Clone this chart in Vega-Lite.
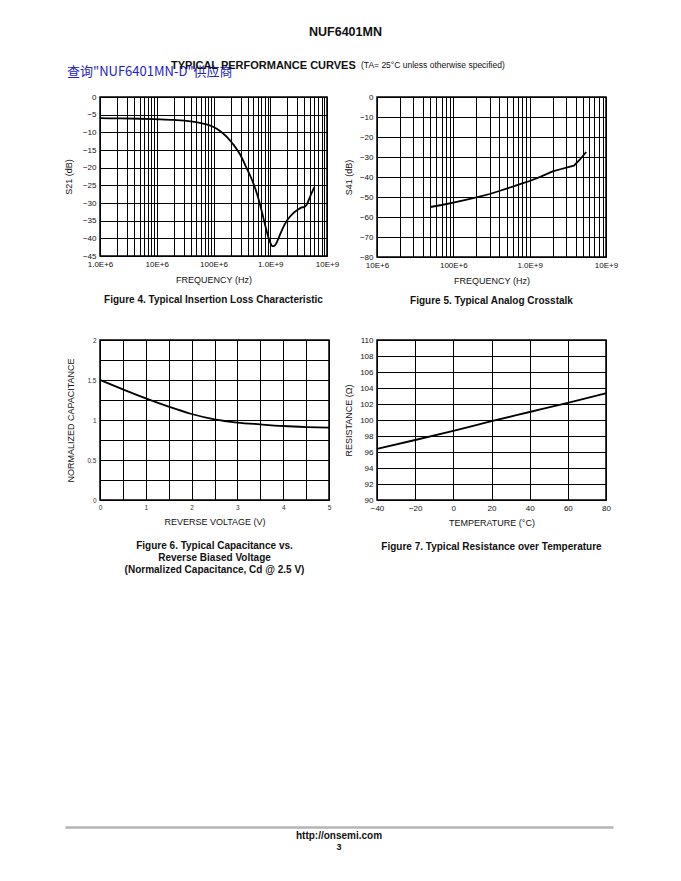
{
  "$schema": "https://vega.github.io/schema/vega-lite/v6.json",
  "autosize": "none",
  "padding": {"left": 65, "top": 97, "right": 616, "bottom": 784},
  "background": "white",
  "bounds": "flush",
  "spacing": 487,
  "config": {
    "font": "Liberation Sans",
    "view": {"stroke": "black", "strokeWidth": 1.5},
    "axis": {"grid": true, "gridColor": "black", "gridOpacity": 1, "gridWidth": 1, "domain": false, "ticks": false, "labelFont": "Liberation Sans", "labelFontSize": 8, "labelColor": "#111", "titleFont": "Liberation Sans", "titleFontSize": 9, "titleFontWeight": "normal", "titleColor": "#111", "labelPadding": 4, "titlePadding": 7, "labelFlush": false, "labelOverlap": false},
    "title": {"font": "Liberation Sans", "fontSize": 10, "fontWeight": "bold", "color": "#111", "frame": "group", "anchor": "middle"}
  },
  "vconcat": [
    {
      "bounds": "flush",
      "spacing": 0,
      "hconcat": [
        {
          "width": 35, "height": 1, "view": {"stroke": null},
          "data": {"values": [{"t": ""}]},
          "mark": {"type": "text"},
          "encoding": {"text": {"field": "t"}},
          "title": {"text": "查询\"NUF6401MN-D\"供应商", "orient": "top", "anchor": "start", "frame": "group", "dx": 2, "offset": 13, "fontSize": 13, "fontWeight": "normal", "color": "#2323c8", "font": "Noto Sans CJK SC"}
        },
        {
          "bounds": "flush",
          "columns": 2,
          "spacing": {"row": 83, "column": 48},
          "concat": [
            {
              "width": 227, "height": 159,
              "data": {"values": [
                {"f": 1e6, "s": -6.0}, {"f": 2e6, "s": -6.05}, {"f": 5e6, "s": -6.15}, {"f": 1e7, "s": -6.3},
                {"f": 2e7, "s": -6.5}, {"f": 4e7, "s": -6.9}, {"f": 6e7, "s": -7.4}, {"f": 8e7, "s": -7.9},
                {"f": 1e8, "s": -8.5}, {"f": 1.3e8, "s": -9.6}, {"f": 1.7e8, "s": -11.2}, {"f": 2.2e8, "s": -13.3},
                {"f": 3e8, "s": -16.5}, {"f": 3.8e8, "s": -20}, {"f": 4.5e8, "s": -22.5}, {"f": 5.2e8, "s": -25},
                {"f": 6e8, "s": -28}, {"f": 7e8, "s": -32}, {"f": 8e8, "s": -35.8}, {"f": 9e8, "s": -39},
                {"f": 1e9, "s": -41.2}, {"f": 1.1e9, "s": -42.2}, {"f": 1.2e9, "s": -42}, {"f": 1.35e9, "s": -40.6},
                {"f": 1.5e9, "s": -38.8}, {"f": 1.75e9, "s": -36.4}, {"f": 2e9, "s": -34.8}, {"f": 2.5e9, "s": -33},
                {"f": 3e9, "s": -32}, {"f": 3.5e9, "s": -31.3}, {"f": 4e9, "s": -31.1}, {"f": 4.4e9, "s": -30.4},
                {"f": 5e9, "s": -28.3}, {"f": 5.5e9, "s": -26.8}, {"f": 6e9, "s": -25.5}
              ]},
              "mark": {"type": "line", "color": "black", "strokeWidth": 1.8, "interpolate": "monotone"},
              "encoding": {
                "x": {"field": "f", "type": "quantitative", "scale": {"type": "log", "domain": [1e6, 1e10], "nice": false},
                  "axis": {"title": "FREQUENCY (Hz)", "values": [1e6,2e6,3e6,4e6,5e6,6e6,7e6,8e6,9e6,1e7,2e7,3e7,4e7,5e7,6e7,7e7,8e7,9e7,1e8,2e8,3e8,4e8,5e8,6e8,7e8,8e8,9e8,1e9,2e9,3e9,4e9,5e9,6e9,7e9,8e9,9e9,1e10],
                    "labelExpr": "datum.value == 1e6 ? '1.0E+6' : datum.value == 1e7 ? '10E+6' : datum.value == 1e8 ? '100E+6' : datum.value == 1e9 ? '1.0E+9' : datum.value == 1e10 ? '10E+9' : ''"}},
                "y": {"field": "s", "type": "quantitative", "scale": {"domain": [-45, 0], "nice": false, "zero": false},
                  "axis": {"title": "S21 (dB)", "values": [-45,-40,-35,-30,-25,-20,-15,-10,-5,0], "titlePadding": 9}}
              },
              "title": {"text": "Figure 4. Typical Insertion Loss Characteristic", "orient": "bottom", "offset": 11}
            },
            {
              "width": 229, "height": 160,
              "data": {"values": [
                {"f": 5e7, "s": -55}, {"f": 7e7, "s": -54}, {"f": 1e8, "s": -52.8}, {"f": 1.5e8, "s": -51.3},
                {"f": 2e8, "s": -50.2}, {"f": 3e8, "s": -48.5}, {"f": 4e8, "s": -47}, {"f": 6e8, "s": -44.8},
                {"f": 8e8, "s": -43.2}, {"f": 1e9, "s": -42}, {"f": 1.4e9, "s": -39.8}, {"f": 2e9, "s": -37.2},
                {"f": 2.6e9, "s": -36}, {"f": 3.2e9, "s": -35.1}, {"f": 3.8e9, "s": -34.3}, {"f": 4.5e9, "s": -31.5},
                {"f": 5.5e9, "s": -27.5}
              ]},
              "mark": {"type": "line", "color": "black", "strokeWidth": 1.8},
              "encoding": {
                "x": {"field": "f", "type": "quantitative", "scale": {"type": "log", "domain": [1e7, 1e10], "nice": false},
                  "axis": {"title": "FREQUENCY (Hz)", "values": [1e7,2e7,3e7,4e7,5e7,6e7,7e7,8e7,9e7,1e8,2e8,3e8,4e8,5e8,6e8,7e8,8e8,9e8,1e9,2e9,3e9,4e9,5e9,6e9,7e9,8e9,9e9,1e10],
                    "labelExpr": "datum.value == 1e7 ? '10E+6' : datum.value == 1e8 ? '100E+6' : datum.value == 1e9 ? '1.0E+9' : datum.value == 1e10 ? '10E+9' : ''"}},
                "y": {"field": "s", "type": "quantitative", "scale": {"domain": [-80, 0], "nice": false, "zero": false},
                  "axis": {"title": "S41 (dB)", "values": [-80,-70,-60,-50,-40,-30,-20,-10,0], "titlePadding": 6}}
              },
              "title": {"text": "Figure 5. Typical Analog Crosstalk", "orient": "bottom", "offset": 11}
            },
            {
              "width": 229, "height": 160,
              "data": {"values": [
                {"v": 0, "c": 1.5}, {"v": 0.5, "c": 1.383}, {"v": 1, "c": 1.27}, {"v": 1.5, "c": 1.167},
                {"v": 2, "c": 1.075}, {"v": 2.5, "c": 1.008}, {"v": 3, "c": 0.968}, {"v": 3.5, "c": 0.945},
                {"v": 4, "c": 0.925}, {"v": 4.5, "c": 0.912}, {"v": 5, "c": 0.904}
              ]},
              "mark": {"type": "line", "color": "black", "strokeWidth": 1.8, "interpolate": "monotone"},
              "encoding": {
                "x": {"field": "v", "type": "quantitative", "scale": {"domain": [0, 5], "nice": false},
                  "axis": {"title": "REVERSE VOLTAGE (V)", "values": [0,0.5,1,1.5,2,2.5,3,3.5,4,4.5,5], "format": "~g", "labelFontSize": 6.5, "labelColor": "#333",
                    "labelExpr": "datum.value % 1 == 0 ? datum.label : ''"}},
                "y": {"field": "c", "type": "quantitative", "scale": {"domain": [0, 2], "nice": false},
                  "axis": {"title": "NORMALIZED CAPACITANCE", "values": [0,0.25,0.5,0.75,1,1.25,1.5,1.75,2], "format": "~g", "labelFontSize": 6.5, "labelColor": "#333", "titlePadding": 11,
                    "labelExpr": "datum.value % 0.5 == 0 ? datum.label : ''"}}
              },
              "title": {"text": ["Figure 6. Typical Capacitance vs.", "Reverse Biased Voltage", "(Normalized Capacitance, Cd @ 2.5 V)"], "orient": "bottom", "offset": 14, "lineHeight": 12}
            },
            {
              "width": 229, "height": 160,
              "data": {"values": [
                {"t": -40, "r": 96.4}, {"t": -20, "r": 97.5}, {"t": 0, "r": 98.65}, {"t": 20, "r": 99.85},
                {"t": 40, "r": 101.0}, {"t": 60, "r": 102.15}, {"t": 80, "r": 103.35}
              ]},
              "mark": {"type": "line", "color": "black", "strokeWidth": 1.8, "interpolate": "monotone"},
              "encoding": {
                "x": {"field": "t", "type": "quantitative", "scale": {"domain": [-40, 80], "nice": false, "zero": false},
                  "axis": {"title": "TEMPERATURE (°C)", "values": [-40,-20,0,20,40,60,80], "titlePadding": 6}},
                "y": {"field": "r", "type": "quantitative", "scale": {"domain": [90, 110], "nice": false, "zero": false},
                  "axis": {"title": "RESISTANCE (Ω)", "values": [90,92,94,96,98,100,102,104,106,108,110], "titlePadding": 6}}
              },
              "title": {"text": "Figure 7. Typical Resistance over Temperature", "orient": "bottom", "offset": 15}
            }
          ]
        },
        {
          "width": 1, "height": 1, "view": {"stroke": null},
          "data": {"values": [{"t": ""}]},
          "mark": {"type": "text"},
          "encoding": {"text": {"field": "t"}},
          "title": {"text": "NUF6401MN", "orient": "top", "anchor": "start", "frame": "group", "dx": 209, "offset": 53, "fontSize": 12.5, "fontWeight": "bold", "color": "#111"}
        },
        {
          "width": 1, "height": 1, "view": {"stroke": null},
          "data": {"values": [{"t": ""}]},
          "mark": {"type": "text"},
          "encoding": {"text": {"field": "t"}},
          "title": {"text": "TYPICAL PERFORMANCE CURVES", "orient": "top", "anchor": "start", "frame": "group", "dx": 70, "offset": 21, "fontSize": 11, "fontWeight": "bold", "color": "#111"}
        },
        {
          "width": 1, "height": 1, "view": {"stroke": null},
          "data": {"values": [{"t": ""}]},
          "mark": {"type": "text"},
          "encoding": {"text": {"field": "t"}},
          "title": {"text": "(TA= 25°C unless otherwise specified)", "orient": "top", "anchor": "start", "frame": "group", "dx": 259, "offset": 22, "fontSize": 8.5, "fontWeight": "normal", "color": "#111"}
        }
      ]
    },
    {
      "width": 548, "height": 243, "view": {"stroke": null},
      "data": {"values": [{"k": 0, "t": ""}]},
      "mark": {"type": "text"},
      "encoding": {
        "text": {"field": "t"},
        "x": {"field": "k", "type": "quantitative", "axis": {"domain": true, "domainColor": "#b5b5b5", "domainWidth": 2.5, "grid": false, "ticks": false, "labels": false, "title": null}}
      },
      "title": {"text": "http://onsemi.com", "subtitle": "3", "orient": "bottom", "offset": 4, "fontSize": 10, "subtitleFontSize": 9, "subtitleFontWeight": "bold", "subtitleColor": "#111", "subtitlePadding": 2, "subtitleFont": "Liberation Sans"}
    }
  ]
}
